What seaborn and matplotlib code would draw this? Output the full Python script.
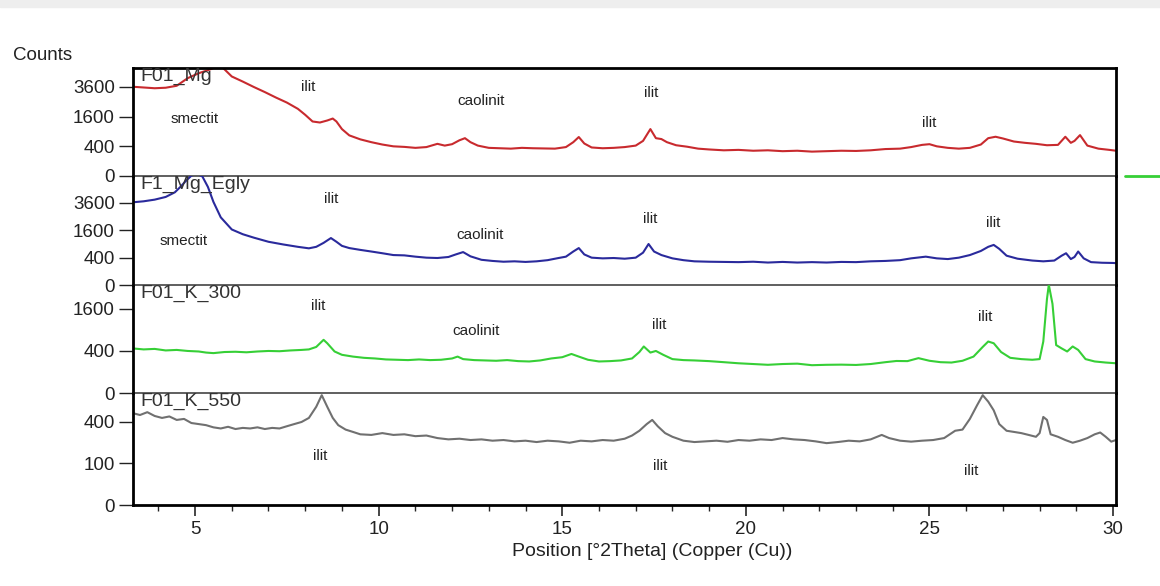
import numpy as np
import pandas as pd
import matplotlib.pyplot as plt
from matplotlib.lines import Line2D
from matplotlib.patches import Rectangle
from matplotlib.ticker import MultipleLocator
import seaborn as sns

# 2theta positions and counts
mg_theta = [3.3, 3.6, 3.9, 4.2, 4.5, 4.8, 5.1, 5.4, 5.6, 5.75, 6.0, 6.3, 6.6, 6.9, 7.2, 7.5, 7.8,
            8.0, 8.2, 8.4, 8.6, 8.75, 8.85, 9.0, 9.2, 9.5, 9.8, 10.1, 10.4, 10.7, 11.0, 11.3, 11.6,
            11.8, 12.0, 12.2, 12.35, 12.5, 12.7, 13.0, 13.3, 13.6, 13.9, 14.2, 14.5, 14.8, 15.1,
            15.3, 15.45, 15.6, 15.8, 16.1, 16.4, 16.7, 17.0, 17.2, 17.4, 17.55, 17.7, 17.85, 18.1,
            18.4, 18.7, 19.0, 19.4, 19.8, 20.2, 20.6, 21.0, 21.4, 21.8, 22.2, 22.6, 23.0, 23.4,
            23.8, 24.2, 24.5, 24.8, 25.0, 25.2, 25.5, 25.8, 26.1, 26.4, 26.6, 26.8, 27.0, 27.3,
            27.6, 27.9, 28.2, 28.5, 28.7, 28.85, 28.95, 29.1, 29.3, 29.6, 29.9, 30.08]
mg_counts = [3620, 3560, 3500, 3540, 3700, 4350, 4800, 5150, 5450, 5350, 4500, 4050, 3600, 3200,
             2800, 2450, 2050, 1700, 1350, 1300, 1400, 1500, 1350, 1000, 750, 610, 520, 450, 400,
             385, 360, 380, 470, 420, 460, 580, 650, 520, 420, 360, 350, 340, 360, 350, 345, 340,
             380, 520, 690, 480, 370, 350, 360, 380, 420, 560, 1000, 650, 620, 520, 430, 390, 340,
             320, 300, 310, 290, 300, 280, 290, 270, 280, 290, 285, 300, 330, 340, 380, 440, 460,
             400, 360, 340, 360, 450, 650, 700, 640, 540, 500, 470, 430, 440, 700, 500, 560, 760,
             420, 340, 310, 290]

egly_theta = [3.3, 3.6, 3.9, 4.2, 4.45, 4.6, 4.75, 4.9, 5.05, 5.2, 5.35, 5.5, 5.7, 6.0, 6.3, 6.6,
              7.0, 7.4, 7.8, 8.1, 8.3, 8.5, 8.7, 8.85, 9.0, 9.2, 9.5, 9.8, 10.1, 10.4, 10.7, 11.0,
              11.3, 11.6, 11.9, 12.1, 12.3, 12.5, 12.8, 13.1, 13.4, 13.7, 14.0, 14.3, 14.6, 14.9,
              15.1, 15.3, 15.45, 15.6, 15.8, 16.1, 16.4, 16.7, 17.0, 17.2, 17.35, 17.5, 17.7, 18.0,
              18.3, 18.6, 19.0, 19.4, 19.8, 20.2, 20.6, 21.0, 21.4, 21.8, 22.2, 22.6, 23.0, 23.4,
              23.8, 24.2, 24.5, 24.9, 25.2, 25.5, 25.8, 26.1, 26.4, 26.6, 26.75, 26.9, 27.1, 27.4,
              27.8, 28.1, 28.4, 28.6, 28.72, 28.85, 28.95, 29.05, 29.2, 29.4, 29.7, 30.0, 30.08]
egly_counts = [3660, 3750, 3900, 4150, 4600, 5150, 5800, 6400, 6600, 6300, 5150, 3700, 2450, 1650,
               1380, 1200, 1000, 880, 780, 720, 780, 950, 1180, 1000, 820, 730, 660, 600, 540, 480,
               470, 430, 400, 390, 420, 500, 580, 440, 340, 310, 290, 300, 285, 300, 330, 390, 430,
               600, 730, 500, 400, 380, 390, 370, 400, 560, 900, 600, 480, 380, 330, 300, 290, 285,
               280, 290, 270, 285, 270, 280, 270, 285, 280, 300, 310, 330, 380, 430, 380, 360, 400,
               480, 620, 780, 860, 700, 460, 370, 320, 300, 320, 460, 540, 360, 420, 600, 380, 280,
               265, 260, 255]

k300_theta = [3.3, 3.6, 3.9, 4.2, 4.5, 4.8, 5.1, 5.3, 5.5, 5.8, 6.1, 6.4, 6.7, 7.0, 7.3, 7.6, 7.9,
              8.1, 8.3, 8.5, 8.6, 8.8, 9.0, 9.3, 9.6, 9.9, 10.2, 10.5, 10.8, 11.1, 11.4, 11.7, 12.0,
              12.15, 12.3, 12.6, 12.9, 13.2, 13.5, 13.8, 14.1, 14.4, 14.7, 15.0, 15.25, 15.45, 15.7,
              16.0, 16.3, 16.6, 16.9, 17.1, 17.22, 17.4, 17.55, 17.75, 18.0, 18.3, 18.6, 19.0, 19.4,
              19.8, 20.2, 20.6, 21.0, 21.4, 21.8, 22.2, 22.6, 23.0, 23.4, 23.8, 24.1, 24.4, 24.7,
              25.0, 25.3, 25.6, 25.9, 26.2, 26.45, 26.6, 26.75, 26.95, 27.2, 27.5, 27.8, 28.0, 28.1,
              28.2, 28.25, 28.35, 28.45, 28.6, 28.75, 28.9, 29.05, 29.25, 29.5, 29.8, 30.08]
k300_counts = [450, 430, 440, 410, 420, 400, 390, 370, 360, 380, 385, 375, 390, 400, 395, 410, 420,
               430, 480, 640, 560, 390, 330, 300, 280, 270, 255, 250, 245, 255, 245, 250, 270, 300,
               260, 245, 240, 235, 245, 230, 225, 240, 270, 290, 345, 300, 250, 225, 230, 240, 270,
               380, 490, 370, 400, 330, 260, 245, 240, 230, 215, 200, 190, 180, 190, 195, 175, 180,
               182, 178, 190, 215, 232, 230, 275, 235, 215, 210, 235, 300, 480, 600, 560, 380, 280,
               260, 250, 260, 600, 2000, 2650, 1800, 520, 450, 390, 490, 420, 260, 225, 210, 200]

k550_theta = [3.3, 3.5, 3.7, 3.9, 4.1, 4.3, 4.5, 4.7, 4.9, 5.1, 5.3, 5.5, 5.7, 5.9, 6.1, 6.3, 6.5,
              6.7, 6.9, 7.1, 7.3, 7.5, 7.7, 7.9, 8.1, 8.3, 8.45, 8.6, 8.75, 8.9, 9.1, 9.3, 9.5, 9.8,
              10.1, 10.4, 10.7, 11.0, 11.3, 11.6, 11.9, 12.2, 12.5, 12.8, 13.1, 13.4, 13.7, 14.0,
              14.3, 14.6, 14.9, 15.2, 15.5, 15.8, 16.1, 16.4, 16.7, 16.9, 17.1, 17.3, 17.45, 17.6,
              17.8, 18.0, 18.3, 18.6, 18.9, 19.2, 19.5, 19.8, 20.1, 20.4, 20.7, 21.0, 21.3, 21.6,
              21.9, 22.2, 22.5, 22.8, 23.1, 23.4, 23.7, 23.9, 24.2, 24.5, 24.8, 25.1, 25.4, 25.7,
              25.9, 26.1, 26.3, 26.45, 26.6, 26.75, 26.9, 27.1, 27.3, 27.5, 27.7, 27.9, 28.0, 28.1,
              28.2, 28.3, 28.5, 28.7, 28.9, 29.1, 29.3, 29.5, 29.65, 29.8, 29.95, 30.08]
k550_counts = [490, 470, 500, 460, 440, 455, 420, 430, 390, 380, 370, 350, 340, 355, 335, 345, 340,
               350, 335, 345, 340, 360, 380, 400, 440, 560, 700, 560, 440, 370, 330, 310, 290, 285,
               300, 285, 290, 275, 280, 260, 250, 255, 245, 250, 240, 245, 235, 240, 230, 240, 235,
               225, 240, 235, 245, 240, 255, 280, 320, 380, 420, 360, 300, 270, 240, 230, 235, 240,
               232, 245, 240, 250, 245, 260, 250, 245, 235, 222, 230, 240, 235, 250, 285, 260, 240,
               233, 240, 245, 260, 320, 330, 430, 580, 700, 620, 520, 380, 320, 310, 300, 285, 270,
               300, 450, 420, 290, 270, 245, 225, 240, 260, 290, 305, 270, 233, 245]

scan_names = ['F01_Mg', 'F1_Mg_Egly', 'F01_K_300', 'F01_K_550']
scan_colors = ['#c82a2e', '#2a2a9c', '#36cf36', '#707070']
y_tops = [5300, 6360, 2640, 728]
y_ticks = [[0, 400, 1600, 3600], [0, 400, 1600, 3600], [0, 400, 1600], [0, 100, 400]]

# phase annotations per panel: (text, 2theta, counts)
phase_labels = [
    [('smectit', 5.0, 1480), ('ilit', 8.07, 3600), ('caolinit', 12.78, 2560),
     ('ilit', 17.43, 3130), ('ilit', 25.0, 1280)],
    [('smectit', 4.69, 1040), ('ilit', 8.71, 3960), ('caolinit', 12.75, 1340),
     ('ilit', 17.4, 2330), ('ilit', 26.74, 2060)],
    [('ilit', 8.35, 1716), ('caolinit', 12.64, 872), ('ilit', 17.64, 1050),
     ('ilit', 26.52, 1310)],
    [('ilit', 8.41, 139), ('ilit', 17.67, 88), ('ilit', 26.14, 67)],
]

scans = [(mg_theta, mg_counts), (egly_theta, egly_counts),
         (k300_theta, k300_counts), (k550_theta, k550_counts)]

sns.set_style('white')
plt.rcParams['font.family'] = ['Liberation Sans', 'DejaVu Sans']

fig, axes = plt.subplots(4, 1, sharex=True, figsize=(11.6, 5.86), dpi=100,
                         gridspec_kw=dict(height_ratios=[108, 109, 108, 112], hspace=0))
fig.subplots_adjust(left=133 / 1160, right=1116 / 1160, top=1 - 68 / 586, bottom=1 - 505 / 586)

sqrt_fwd = lambda v: np.sqrt(np.clip(v, 0, None))

for i, ax in enumerate(axes):
    ax.set_facecolor('none')
    df = pd.DataFrame({'theta': scans[i][0], 'counts': scans[i][1]})
    sns.lineplot(data=df, x='theta', y='counts', ax=ax, color=scan_colors[i],
                 linewidth=1.5, estimator=None, sort=False)
    ax.set_yscale('function', functions=(sqrt_fwd, np.square))
    ax.set_ylim(0, y_tops[i])
    ax.set_yticks(y_ticks[i])
    ax.set_yticklabels([str(t) for t in y_ticks[i]], fontsize=13.5, color='#222222')
    ax.set_ylabel('')
    ax.set_xlabel('')
    ax.tick_params(axis='y', direction='out', length=10, width=1, color='#222222', left=True, pad=3)
    ax.text(0.007, 1.0, scan_names[i], transform=ax.transAxes, ha='left', va='top',
            fontsize=14, color='#333333')
    for txt, tx, ty in phase_labels[i]:
        ax.text(tx, ty, txt, ha='center', va='center', fontsize=11, color='#222222')
    ax.spines['left'].set_linewidth(2)
    ax.spines['left'].set_color('black')
    ax.spines['right'].set_linewidth(2)
    ax.spines['right'].set_color('black')
    if i > 0:
        ax.spines['top'].set_visible(False)
    else:
        ax.spines['top'].set_linewidth(2)
        ax.spines['top'].set_color('black')
    if i < 3:
        ax.spines['bottom'].set_linewidth(1.2)
        ax.spines['bottom'].set_color('#444444')
        ax.tick_params(axis='x', bottom=False, which='both')
    else:
        ax.spines['bottom'].set_linewidth(2)
        ax.spines['bottom'].set_color('black')

ax = axes[-1]
ax.set_xlim(3.31, 30.08)
ax.xaxis.set_major_locator(MultipleLocator(5))
ax.xaxis.set_minor_locator(MultipleLocator(1))
ax.tick_params(axis='x', which='major', direction='out', length=8, width=1.2, bottom=True,
               labelsize=13.5, labelcolor='#222222')
ax.tick_params(axis='x', which='minor', direction='out', length=4, width=1, bottom=True)

fig.text(652 / 1160, 1 - 552 / 586, 'Position [°2Theta] (Copper (Cu))', ha='center',
         va='center', fontsize=14, color='#222222')
fig.text(13 / 1160, 1 - 55 / 586, 'Counts', ha='left', va='center', fontsize=13.5, color='#222222')

# small green marker sticking out at the right and the grey screenshot strip on top
fig.add_artist(Line2D([1125 / 1160, 1.0], [1 - 176 / 586] * 2, color='#36cf36', lw=2))
fig.add_artist(Rectangle((0, 1 - 7 / 586), 1, 7 / 586, transform=fig.transFigure,
                         color='#eeeeee', zorder=0))

fig.savefig('out.png', dpi=100)
